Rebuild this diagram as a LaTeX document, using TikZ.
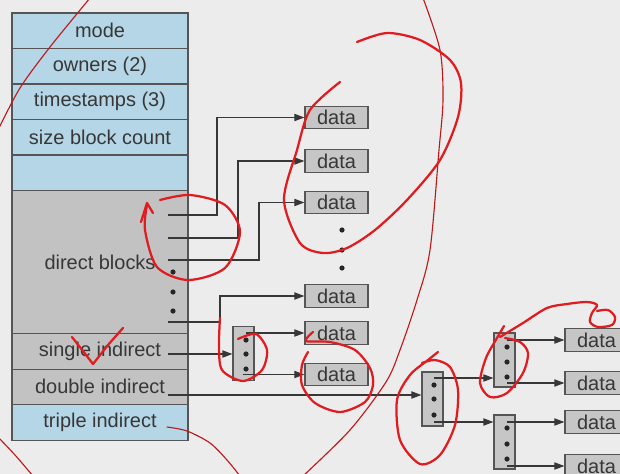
\documentclass[tikz,border=0pt]{standalone}
\usepackage{fontspec}
\setmainfont{Liberation Sans}
\usetikzlibrary{arrows.meta, positioning}
\definecolor{bgc}{RGB}{236,236,236}
\definecolor{inodeblue}{RGB}{180,214,230}
\definecolor{inodegray}{RGB}{194,194,194}
\definecolor{boxgray}{RGB}{198,198,198}
\definecolor{edge}{RGB}{85,85,85}
\definecolor{ink}{RGB}{55,55,55}
\definecolor{penred}{RGB}{225,28,32}

\begin{document}
\begin{tikzpicture}[x=0.025cm, y=-0.025cm, node distance=0pt,
  font=\fontsize{14.2}{17}\selectfont,
  row/.style={draw=edge, line width=0.8pt, fill=inodeblue, text=ink, minimum width=4.4cm,
              minimum height=0.8875cm, inner sep=0pt, outer sep=0pt},
  grayrow/.style={row, fill=inodegray},
  datbox/.style={draw=edge, line width=0.8pt, fill=boxgray, text=ink, minimum width=1.575cm,
                 minimum height=0.56cm, inner sep=0pt},
  ptrblk/.style={draw=edge, line width=0.8pt, fill=boxgray, minimum width=0.525cm,
                 minimum height=1.35cm, inner sep=0pt},
  ptr/.style={draw=ink, line width=0.8pt, -{Triangle[length=0.25cm, width=0.18cm]}},
  bullet/.style={circle, fill=black!85, inner sep=0pt, minimum size=0.13cm},
  scribble/.style={draw=penred, line width=1.6pt, line cap=round, line join=round},
  thinscribble/.style={draw=penred!85!black, line width=0.8pt, line cap=round}]

  \useasboundingbox (0,0) rectangle (620,474);
  \fill[bgc] (0,0) rectangle (620,474);
  \clip (0,0) rectangle (620,474);

  % inode
  \node[row] (mode) at (100,30.75) {mode};
  \node[row, below=of mode] (owners) {owners (2)};
  \node[row, below=of owners] (stamps) {timestamps (3)};
  \node[row, below=of stamps] (size) {size block count};
  \node[row, below=of size] (spare) {};
  \node[grayrow, minimum height=3.575cm, below=of spare] (direct) {direct blocks};
  \node[grayrow, below=of direct] (single) {single indirect};
  \node[grayrow, below=of single] (double) {double indirect};
  \node[row, below=of double] (triple) {triple indirect};

  \coordinate (d1) at (168,215);
  \coordinate (d2) at (168,238);
  \coordinate (d3) at (168,260);
  \coordinate (d4) at (168,322);
  \coordinate (si) at (168,354);
  \coordinate (di) at (168,395);
  \foreach \y in {272,292,311} \node[bullet] (dd\y) at (173,\y) {};

  % data blocks
  \node[datbox] (data1) at (336.5,117.5) {data};
  \node[datbox] (data2) at (336.5,161) {data};
  \node[datbox] (data3) at (336.5,202.5) {data};
  \foreach \y in {230,250,268} \node[bullet] (vd\y) at (342,\y) {};
  \node[datbox] (data4) at (336.5,296) {data};
  \node[datbox] (data5) at (336.5,333) {data};
  \node[datbox] (data6) at (336.5,374.5) {data};

  \node[datbox] (data7) at (596.5,340) {data};
  \node[datbox] (data8) at (596.5,383) {data};
  \node[datbox] (data9) at (596.5,422) {data};
  \node[datbox] (data10) at (596.5,466) {data};

  % index blocks
  \node[ptrblk] (sib) at (243.5,353.5) {};
  \node[ptrblk] (dib) at (432.5,399) {};
  \node[ptrblk] (dib2) at (504.5,360) {};
  \node[ptrblk] (dib3) at (504.5,442) {};
  \foreach \y in {340,354,369} \node[bullet] (sd\y) at (246,\y) {};
  \foreach \y in {385,399,415} \node[bullet] (ad\y) at (434,\y) {};
  \foreach \y in {347,362,377} \node[bullet] (bd\y) at (507,\y) {};
  \foreach \y in {428,444,459} \node[bullet] (cd\y) at (507,\y) {};

  \coordinate (s1) at (246,333);
  \coordinate (s3) at (243,374.5);
  \coordinate (a1) at (434,378);
  \coordinate (a3) at (434,422);
  \coordinate (b1) at (507,340);
  \coordinate (b3) at (507,383);
  \coordinate (c1) at (507,422);
  \coordinate (c3) at (507,466);

  \draw[ptr] (d1) -- ++(49,0) |- (data1.west);
  \draw[ptr] (d2) -- ++(70,0) |- (data2.west);
  \draw[ptr] (d3) -- ++(91,0) |- (data3.west);
  \draw[ptr] (d4) -- ++(52,0) |- (data4.west);
  \draw[ptr] (si) -- (si -| sib.west);
  \draw[ptr] (s1) -- (s1 -| data5.west);
  \draw[ptr] (s3) -- (s3 -| data6.west);
  \draw[ptr] (di) -- (di -| dib.west);
  \draw[ptr] (a1) -- (a1 -| dib2.west);
  \draw[ptr] (a3) -- (a3 -| dib3.west);
  \draw[ptr] (b1) -- (b1 -| data7.west);
  \draw[ptr] (b3) -- (b3 -| data8.west);
  \draw[ptr] (c1) -- (c1 -| data9.west);
  \draw[ptr] (c3) -- (c3 -| data10.west);

  % pen marks
  \draw[thinscribble] plot[smooth] coordinates {(90,-2) (50,47) (20,88) (-2,130)};
  \draw[thinscribble] plot[smooth] coordinates {(423,-2) (440,50) (443,100) (439,150)
    (430,250) (417,300) (400,350) (386,382) (350,430) (303,476)};
  \draw[thinscribble] plot[smooth] coordinates {(167,427) (187,431) (210,443) (227,460) (240,476)};
  \draw[thinscribble] plot[smooth] coordinates {(-2,437) (15,455) (33,476)};
  \draw[scribble] plot[smooth] coordinates {(340,82) (310,110) (297,150) (284,200) (300,243)
    (323,253) (347,248) (375,230) (407,200) (440,160) (458,117) (461,83) (450,60)
    (420,40) (387,33) (357,42)};
  \draw[scribble] (141,222) -- (147,203) -- (153,213);
  \draw[scribble] plot[smooth] coordinates {(147,205) (145,230) (157,267) (188,280)
    (225,268) (240,232) (225,205) (190,195) (160,200)};
  \draw[scribble] (72,337) -- (83,351) -- (93,364) -- (108,345) -- (123,328);
  \draw[scribble] plot[smooth] coordinates {(220,318) (219,345) (222,370) (243,381)
    (262,370) (267,350) (256,334) (238,339)};
  \draw[scribble] plot[smooth] coordinates {(313,332) (306,341) (330,342) (355,350)
    (370,368) (373,385) (365,402) (340,412) (315,403) (302,385) (302,365) (308,352)};
  \draw[scribble] plot[smooth] coordinates {(438,352) (428,360) (410,375) (397,400)
    (400,440) (420,464) (440,455) (455,425) (458,390) (450,367) (435,360) (422,363)};
  \draw[scribble] plot[smooth] coordinates {(504,326) (497,338) (486,358) (480,383)
    (490,397) (507,393) (523,373) (528,353) (520,342) (505,338)};
  \draw[scribble] plot[smooth] coordinates {(500,337) (523,323) (547,308) (567,304)
    (587,302) (597,305) (592,313) (590,322) (598,327) (612,325) (615,317) (608,310) (597,311)};
\end{tikzpicture}
\end{document}
